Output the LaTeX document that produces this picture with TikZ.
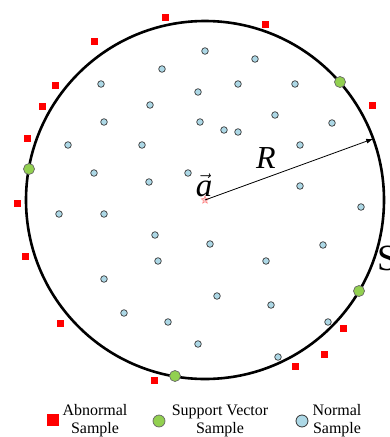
\documentclass[tikz,border=0pt]{standalone}
\usepackage{fontspec}
\setmainfont{Liberation Serif}
\usetikzlibrary{shapes.geometric,arrows.meta}
\definecolor{nblue}{HTML}{ADD8E6}
\definecolor{svgreen}{HTML}{92D050}
\begin{document}
\begin{tikzpicture}[x=1pt,y=-1pt,
  normal/.style={circle,draw=black!80,fill=nblue,line width=0.7pt,minimum size=6.6pt,inner sep=0pt},
  sv/.style={circle,draw=black!60,fill=svgreen,line width=0.7pt,minimum size=11pt,inner sep=0pt},
  abn/.style={rectangle,fill=red,minimum size=7pt,inner sep=0pt},
  lbl/.style={font=\fontsize{16}{18}\selectfont,align=center,inner sep=0pt}]
\useasboundingbox (0,0) rectangle (390,437);
\coordinate (c) at (205,200);
\node[circle,draw,line width=2.6pt,minimum size=358pt,inner sep=0pt,outer sep=0pt] (S) at (c) {};
% normal samples
\foreach \p [count=\i] in {(162,69),(101,84),(198,92),(150,105),(104,122),(200,122),(68,145),(142,145),(94,173),(149,182),(188,173),
  (205,51),(255,59),(238,84),(295,84),(275,115),(224,130),(238,132),(332,123),(300,145),(300,186),
  (59,214),(104,214),(155,235),(158,261),(104,279),(124,313),(168,322),(198,344),
  (361,207),(210,244),(323,245),(266,261),(217,296),(271,305),(328,322),(278,357)}
  \node[normal] (n\i) at \p {};
% support vectors
\foreach \p [count=\i] in {(29,169),(340,82),(359,291),(175,376)}
  \node[sv] (s\i) at \p {};
% abnormal samples
\foreach \p [count=\i] in {(165,17),(94,41),(55,85),(42,106),(27,138),(265,24),(372,105),
  (17,203),(25,256),(60,323),(154,380),(343,328),(324,354),(295,366)}
  \node[abn] (a\i) at \p {};
% center and radius
\node[star,star points=5,star point ratio=2.3,minimum size=8pt,inner sep=0pt,draw=red!55,fill=red!20,line width=0.4pt] (ctr) at (c) {};
\draw[line width=0.8pt,-{Latex[length=7pt,width=5pt]}] (ctr.center) -- (S.20.7);
\node[font=\fontsize{32}{32}\selectfont\itshape,inner sep=0pt,anchor=base] (R) at (266,168) {R};
\node[font=\fontsize{33}{33}\selectfont,inner sep=0pt,anchor=base] (va) at (204,196) {$\vec{\mathit{a}}$};
\node[font=\fontsize{37}{37}\selectfont,inner sep=0pt,anchor=base west] (Sl) at (377,270) {S};
% legend
\node[abn,minimum size=12pt] (la) at (53,420) {};
\node[lbl] (ta) at (95,421) {Abnormal\\Sample};
\node[sv,minimum size=12pt] (lsv) at (159,421) {};
\node[lbl] (tsv) at (220,421) {Support Vector\\Sample};
\node[normal,minimum size=12pt,line width=0.8pt] (ln) at (302,421) {};
\node[lbl] (tn) at (337,421) {Normal\\Sample};
\end{tikzpicture}
\end{document}
